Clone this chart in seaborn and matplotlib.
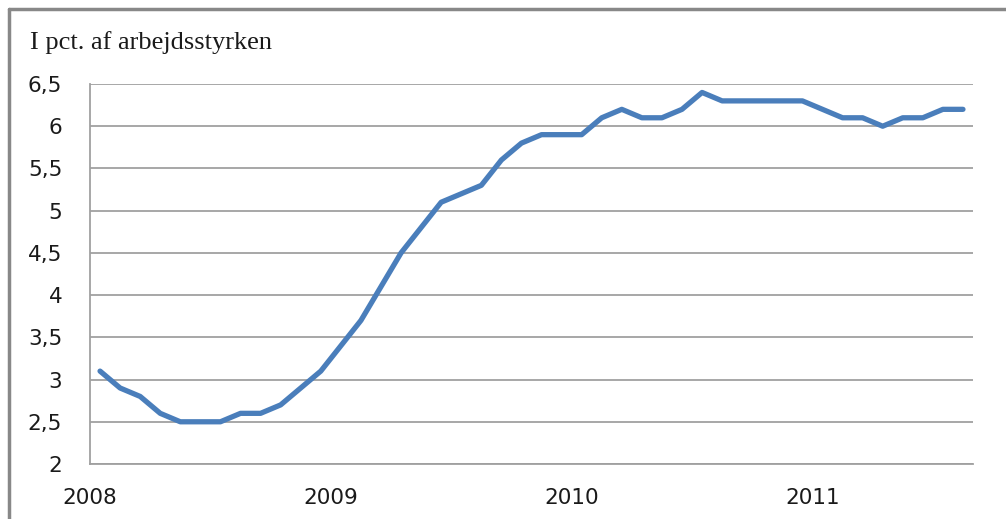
import matplotlib
matplotlib.use("Agg")
import matplotlib.pyplot as plt
from matplotlib.lines import Line2D
import seaborn as sns
import pandas as pd

# Monthly unemployment, Jan 2008 - Aug 2011 (pct. of labour force)
values = [3.1, 2.9, 2.8, 2.6, 2.5, 2.5, 2.5, 2.6, 2.6, 2.7, 2.9, 3.1,
          3.4, 3.7, 4.1, 4.5, 4.8, 5.1, 5.2, 5.3, 5.6, 5.8, 5.9, 5.9,
          5.9, 6.1, 6.2, 6.1, 6.1, 6.2, 6.4, 6.3, 6.3, 6.3, 6.3, 6.3,
          6.2, 6.1, 6.1, 6.0, 6.1, 6.1, 6.2, 6.2]
years = ["2008", "2009", "2010", "2011"]
y_ticks = [2, 2.5, 3, 3.5, 4, 4.5, 5, 5.5, 6, 6.5]
title = "I pct. af arbejdsstyrken"

df = pd.DataFrame({"month": [i + 0.5 for i in range(len(values))], "value": values})

sns.set_style("white")
plt.rcParams["font.family"] = ["DejaVu Sans"]
fig = plt.figure(figsize=(10.06, 5.19), dpi=100)
ax = fig.add_axes([90 / 1006, 55 / 519, 883 / 1006, 380 / 519])

sns.lineplot(data=df, x="month", y="value", ax=ax, color="#4a7ebb", linewidth=3.8)

ax.set_xlim(0, len(values))
ax.set_ylim(2, 6.5)
ax.set_yticks(y_ticks)
ax.set_yticklabels([f"{v:g}".replace(".", ",") for v in y_ticks])
ax.set_xticks([12 * i for i in range(len(years))])
ax.set_xticklabels(years)
ax.set_xlabel("")
ax.set_ylabel("")

ax.grid(axis="y", color="#a0a0a0", linewidth=1.3)
ax.set_axisbelow(True)
for s in ["top", "right"]:
    ax.spines[s].set_visible(False)
for s in ["left", "bottom"]:
    ax.spines[s].set_color("#a0a0a0")
    ax.spines[s].set_linewidth(1.3)

ax.tick_params(axis="y", length=0, pad=20, labelsize=15.5, labelcolor="#1a1a1a")
ax.tick_params(axis="x", direction="out", length=6, width=1.2, color="#a0a0a0",
               pad=11, labelsize=15.5, labelcolor="#1a1a1a")

fig.text(30 / 1006, 1 - 43 / 519, title, fontsize=19, family="Liberation Serif",
         va="center", ha="left", color="#1a1a1a")

# outer frame (top and left edges visible in reference)
fig.add_artist(Line2D([9 / 1006, 1], [1 - 9 / 519, 1 - 9 / 519], transform=fig.transFigure,
                      color="#888888", linewidth=2.5))
fig.add_artist(Line2D([9 / 1006, 9 / 1006], [0, 1 - 9 / 519], transform=fig.transFigure,
                      color="#888888", linewidth=2.5))

fig.savefig("out.png", dpi=100)
